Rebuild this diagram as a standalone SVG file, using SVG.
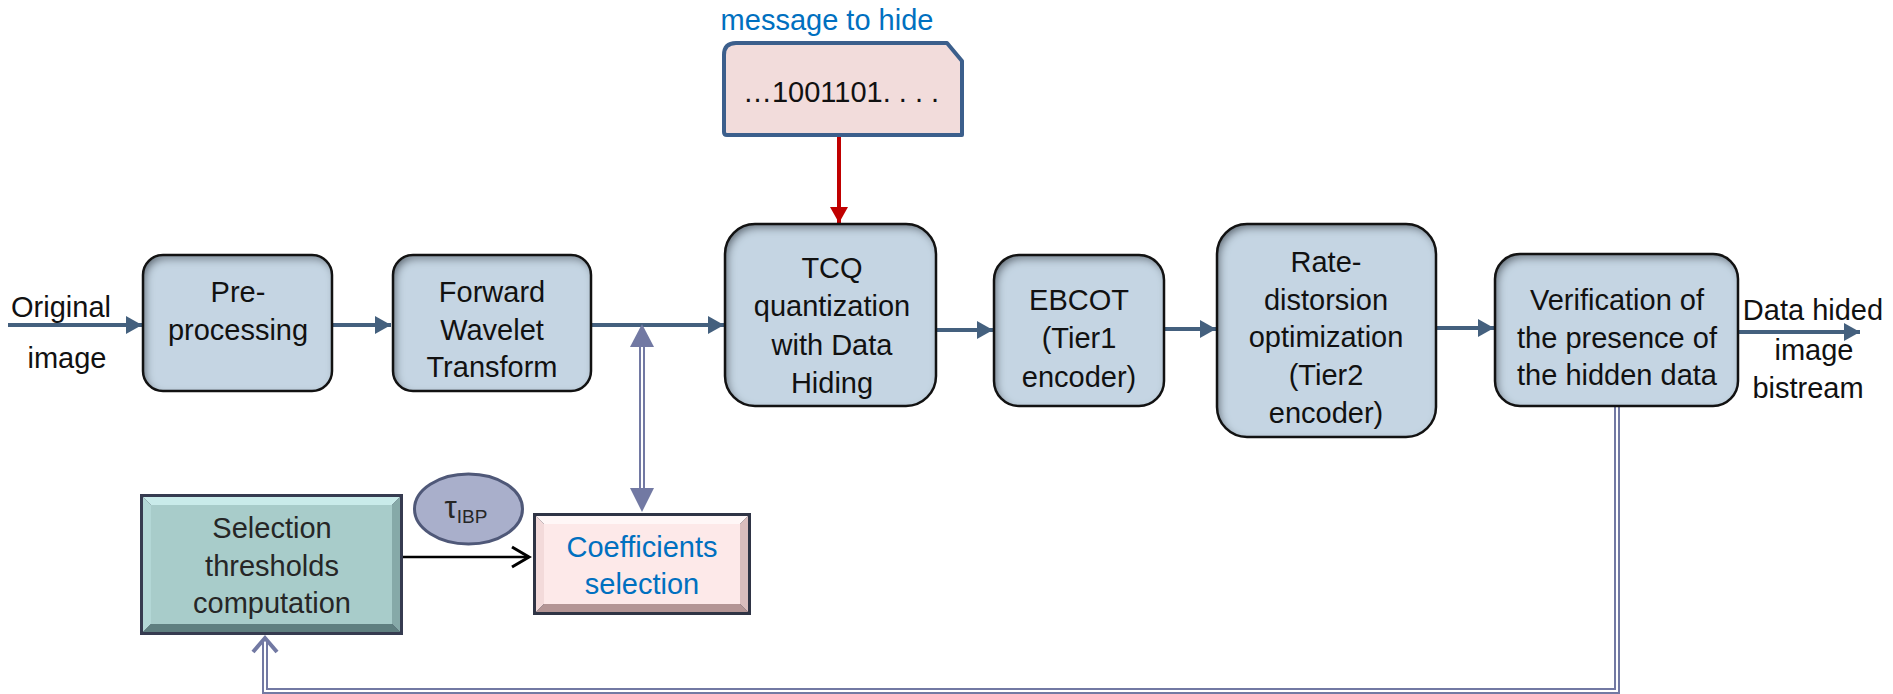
<svg xmlns="http://www.w3.org/2000/svg" width="1893" height="694" viewBox="0 0 1893 694">
  <defs>
    <style>
      text { font-family: "Liberation Sans", Arial, sans-serif; font-size: 29px; fill: #111; text-anchor: middle; }
      .blue { fill: #0070C0; }
      .dark { fill: #262626; }
      .proc { fill: #C5D5E3; }
      .procEdge { fill: none; stroke: #121212; stroke-width: 2.5; }
      .flow { fill: none; stroke: #44607E; stroke-width: 4; marker-end: url(#headSteel); }
      .dbl { fill: none; stroke: #7279A3; stroke-width: 6; }
      .dblIn { fill: none; stroke: #ffffff; stroke-width: 2; }
    </style>
    <marker id="headSteel" markerUnits="userSpaceOnUse" markerWidth="17" markerHeight="20" refX="16" refY="10" orient="auto">
      <path d="M0,1 L16,10 L0,19 Z" fill="#44607E"/>
    </marker>
    <marker id="headRed" markerUnits="userSpaceOnUse" markerWidth="17" markerHeight="20" refX="16" refY="10" orient="auto">
      <path d="M0,1 L16,10 L0,19 Z" fill="#C00000"/>
    </marker>
    <marker id="headOpen" markerUnits="userSpaceOnUse" markerWidth="22" markerHeight="24" refX="19" refY="12" orient="auto">
      <path d="M2,2 L19,12 L2,22" fill="none" stroke="#000" stroke-width="3"/>
    </marker>
    <filter id="inset" x="-5%" y="-5%" width="110%" height="110%">
      <feComponentTransfer in="SourceAlpha">
        <feFuncA type="table" tableValues="1 0"/>
      </feComponentTransfer>
      <feGaussianBlur stdDeviation="4"/>
      <feOffset dx="3" dy="4" result="off"/>
      <feFlood flood-color="#1c2a38" flood-opacity="0.85"/>
      <feComposite in2="off" operator="in"/>
      <feComposite in2="SourceAlpha" operator="in" result="shadow"/>
      <feMerge>
        <feMergeNode in="SourceGraphic"/>
        <feMergeNode in="shadow"/>
      </feMerge>
    </filter>
  </defs>

  <rect width="1893" height="694" fill="#ffffff"/>

  <!-- connectors -->
  <g id="connectors">
    <line class="flow" x1="8" y1="325" x2="142" y2="325"/>
    <line class="flow" x1="332" y1="325" x2="391" y2="325"/>
    <line class="flow" x1="591" y1="325" x2="724" y2="325"/>
    <line class="flow" x1="936" y1="330" x2="993" y2="330"/>
    <line class="flow" x1="1164" y1="329" x2="1216" y2="329"/>
    <line class="flow" x1="1436" y1="328" x2="1494" y2="328"/>
    <line class="flow" x1="1738" y1="332" x2="1860" y2="332"/>

    <!-- message injection -->
    <line x1="839" y1="135" x2="839" y2="223" stroke="#C00000" stroke-width="4" marker-end="url(#headRed)"/>

    <!-- coefficient exchange (double line, both ends) -->
    <line class="dbl" x1="642" y1="345" x2="642" y2="490"/>
    <line class="dblIn" x1="642" y1="345" x2="642" y2="490"/>
    <path d="M642,324 L654,347 L630,347 Z" fill="#7279A3"/>
    <path d="M642,512 L654,488 L630,488 Z" fill="#7279A3"/>

    <!-- feedback loop -->
    <path class="dbl" d="M1617,406 L1617,691 L265,691 L265,640"/>
    <path class="dblIn" d="M1617,406 L1617,691 L265,691 L265,640"/>
    <path d="M253,652 L265,638 L277,652" fill="none" stroke="#7279A3" stroke-width="4"/>

    <!-- threshold to selection -->
    <line x1="403" y1="557" x2="529" y2="557" stroke="#000" stroke-width="2.5" marker-end="url(#headOpen)"/>
  </g>

  <!-- inputs / outputs -->
  <g id="input-label">
    <text x="61" y="317">Original</text>
    <text x="67" y="368">image</text>
  </g>
  <g id="output-label">
    <text x="1813" y="320">Data hided</text>
    <text x="1814" y="360">image</text>
    <text x="1808" y="398">bistream</text>
  </g>

  <g id="message">
    <text class="blue" x="827" y="30">message to hide</text>
    <path d="M736,43 L947,43 L962,61 L962,135 L727,135 Q724,135 724,132 L724,55 Q724,43 736,43 Z" fill="#F2DCDB" stroke="#3C5F8C" stroke-width="4" stroke-linejoin="round"/>
    <text x="841" y="102">…1001101. . . .</text>
  </g>

  <g id="preprocessing">
    <rect class="proc" x="143" y="255" width="189" height="136" rx="20" filter="url(#inset)"/>
    <rect class="procEdge" x="143" y="255" width="189" height="136" rx="20"/>
    <text x="238" y="302">Pre-</text>
    <text x="238" y="340">processing</text>
  </g>

  <g id="wavelet">
    <rect class="proc" x="393" y="255" width="198" height="136" rx="20" filter="url(#inset)"/>
    <rect class="procEdge" x="393" y="255" width="198" height="136" rx="20"/>
    <text x="492" y="302">Forward</text>
    <text x="492" y="340">Wavelet</text>
    <text x="492" y="377">Transform</text>
  </g>

  <g id="tcq">
    <rect class="proc" x="725" y="224" width="211" height="182" rx="30" filter="url(#inset)"/>
    <rect class="procEdge" x="725" y="224" width="211" height="182" rx="30"/>
    <text x="832" y="278">TCQ</text>
    <text x="832" y="316">quantization</text>
    <text x="832" y="355">with Data</text>
    <text x="832" y="393">Hiding</text>
  </g>

  <g id="ebcot">
    <rect class="proc" x="994" y="255" width="170" height="151" rx="25" filter="url(#inset)"/>
    <rect class="procEdge" x="994" y="255" width="170" height="151" rx="25"/>
    <text x="1079" y="310">EBCOT</text>
    <text x="1079" y="348">(Tier1</text>
    <text x="1079" y="387">encoder)</text>
  </g>

  <g id="rate-distortion">
    <rect class="proc" x="1217" y="224" width="219" height="213" rx="30" filter="url(#inset)"/>
    <rect class="procEdge" x="1217" y="224" width="219" height="213" rx="30"/>
    <text x="1326" y="272">Rate-</text>
    <text x="1326" y="310">distorsion</text>
    <text x="1326" y="347">optimization</text>
    <text x="1326" y="385">(Tier2</text>
    <text x="1326" y="423">encoder)</text>
  </g>

  <g id="verification">
    <rect class="proc" x="1495" y="254" width="243" height="152" rx="25" filter="url(#inset)"/>
    <rect class="procEdge" x="1495" y="254" width="243" height="152" rx="25"/>
    <text x="1617" y="310">Verification of</text>
    <text x="1617" y="348">the presence of</text>
    <text x="1617" y="385">the hidden data</text>
  </g>

  <g id="thresholds">
    <rect x="140" y="494" width="263" height="141" fill="#363b50"/>
    <polygon points="143,497 400,497 392,505 151,505" fill="#C9EBEA"/>
    <polygon points="143,497 151,505 151,624 143,632" fill="#B3D7D6"/>
    <polygon points="400,497 400,632 392,624 392,505" fill="#86A9A8"/>
    <polygon points="143,632 151,624 392,624 400,632" fill="#5F7F80"/>
    <rect x="151" y="505" width="241" height="119" fill="#A8CCCA"/>
    <text class="dark" x="272" y="538">Selection</text>
    <text class="dark" x="272" y="576">thresholds</text>
    <text class="dark" x="272" y="613">computation</text>
  </g>

  <g id="tau">
    <ellipse cx="468.5" cy="509" rx="54" ry="35" fill="#A9AFCB" stroke="#4F5878" stroke-width="3"/>
    <text x="466" y="518" class="dark" style="font-size:31px">τ<tspan style="font-size:19px" dy="5">IBP</tspan></text>
  </g>

  <g id="coefficients">
    <rect x="533" y="513" width="218" height="102" fill="#2f3445"/>
    <polygon points="536,516 748,516 740,524 544,524" fill="#FFF7F7"/>
    <polygon points="536,516 544,524 544,604 536,612" fill="#F3DADA"/>
    <polygon points="748,516 748,612 740,604 740,524" fill="#D9BDBD"/>
    <polygon points="536,612 544,604 740,604 748,612" fill="#B49595"/>
    <rect x="544" y="524" width="196" height="80" fill="#FDE9E9"/>
    <text class="blue" x="642" y="557">Coefficients</text>
    <text class="blue" x="642" y="594">selection</text>
  </g>
</svg>
